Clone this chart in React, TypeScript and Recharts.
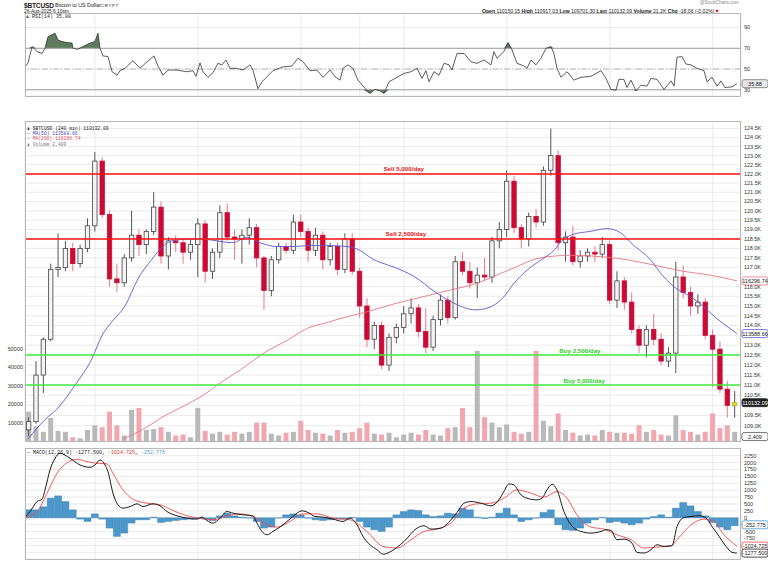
import React from "react";
import {
  ComposedChart,
  Bar,
  Line,
  Area,
  XAxis,
  YAxis,
  CartesianGrid,
  ReferenceLine,
  Cell,
} from "recharts";

// 12h candles, x = day of July (Aug 1 = 32)
const candleDays = [
  9.5, 10, 10.5, 11, 11.5, 12, 12.5, 13, 13.5, 14, 14.5, 15, 15.5, 16, 16.5, 17, 17.5, 18, 18.5, 19,
  19.5, 20, 20.5, 21, 21.5, 22, 22.5, 23, 23.5, 24, 24.5, 25, 25.5, 26, 26.5, 27, 27.5, 28, 28.5, 29,
  29.5, 30, 30.5, 31, 31.5, 32, 32.5, 33, 33.5, 34, 34.5, 35, 35.5, 36, 36.5, 37, 37.5, 38, 38.5, 39,
  39.5, 40, 40.5, 41, 41.5, 42, 42.5, 43, 43.5, 44, 44.5, 45, 45.5, 46, 46.5, 47, 47.5, 48, 48.5, 49,
  49.5, 50, 50.5, 51, 51.5, 52, 52.5, 53, 53.5, 54, 54.5, 55, 55.5, 56, 56.5, 57, 57.5,
];
const opens = [
  108.8, 109.2, 111.5, 113.3, 116.9, 117.0, 118.0, 117.2, 118.0, 119.2, 122.7, 119.8, 116.4, 116.2, 117.5, 118.7, 118.2, 118.9, 120.2, 117.6,
  118.4, 118.3, 117.8, 118.2, 119.3, 116.8, 117.8, 119.9, 118.6, 118.5, 118.7, 119.1, 117.5, 115.8, 117.4, 118.1, 117.9, 119.4, 118.9, 117.9,
  118.7, 117.4, 118.1, 116.9, 118.5, 116.8, 115.0, 113.3, 114.0, 112.0, 113.4, 113.9, 114.6, 114.9, 113.7, 112.9, 114.3, 115.3, 114.4, 117.3,
  116.8, 116.2, 116.6, 116.5, 118.4, 119.0, 121.6, 119.1, 118.5, 119.7, 119.4, 122.2, 123.0, 118.3, 118.6, 117.3, 117.6, 117.8, 117.7, 118.2,
  115.3, 116.3, 115.2, 113.8, 113.0, 113.8, 113.3, 112.2, 112.6, 116.5, 115.7, 115.0, 115.2, 113.5, 112.8, 110.8, 110.0,
];
const highs = [
  109.4, 112.2, 113.4, 117.2, 118.8, 118.4, 118.3, 118.2, 119.6, 123.2, 122.9, 120.0, 117.2, 117.7, 120.0, 119.0, 119.0, 121.0, 120.5, 118.6,
  118.7, 118.5, 118.5, 119.6, 119.5, 118.0, 120.3, 120.4, 119.0, 119.0, 119.6, 119.3, 117.6, 117.6, 118.3, 118.3, 119.8, 119.8, 119.1, 119.1,
  118.9, 118.3, 118.3, 118.8, 118.8, 117.0, 115.4, 114.2, 114.2, 113.6, 114.1, 115.0, 115.4, 115.1, 114.9, 114.5, 115.6, 115.5, 117.6, 117.8,
  117.3, 117.0, 117.5, 118.6, 119.4, 122.2, 121.9, 119.3, 119.9, 120.1, 122.4, 124.5, 123.3, 118.9, 119.2, 117.9, 118.0, 118.1, 118.6, 118.4,
  116.8, 116.5, 115.7, 114.0, 114.0, 114.6, 113.6, 112.9, 117.3, 117.1, 116.0, 115.6, 115.4, 113.8, 113.2, 111.2, 110.7,
];
const lows = [
  108.5, 109.1, 110.6, 113.2, 116.5, 116.8, 116.8, 117.0, 117.8, 118.9, 119.6, 116.0, 115.7, 116.0, 117.3, 117.6, 117.7, 118.7, 117.2, 116.9,
  117.8, 117.2, 117.4, 116.5, 116.2, 116.4, 117.5, 118.4, 117.4, 117.2, 118.2, 117.0, 114.8, 115.5, 117.2, 117.7, 117.7, 118.6, 117.3, 117.6,
  116.9, 117.1, 116.6, 116.7, 116.6, 114.4, 112.9, 112.8, 111.8, 111.7, 113.1, 113.6, 114.1, 113.4, 112.6, 112.7, 114.0, 114.1, 114.3, 116.6,
  115.9, 115.4, 116.3, 116.2, 118.0, 118.6, 118.8, 118.0, 118.1, 119.1, 119.2, 121.9, 117.9, 117.3, 117.1, 117.0, 117.3, 117.3, 117.5, 115.1,
  114.9, 114.8, 113.6, 112.6, 112.4, 113.0, 112.0, 111.9, 111.6, 115.4, 114.5, 114.6, 113.3, 110.9, 110.6, 109.4, 109.4,
];
const closes = [
  109.2, 111.5, 113.3, 116.9, 117.0, 118.0, 117.2, 118.0, 119.2, 122.7, 119.8, 116.4, 116.2, 117.5, 118.7, 118.2, 118.9, 120.2, 117.6, 118.4,
  118.3, 117.8, 118.2, 119.3, 116.8, 117.8, 119.9, 118.6, 118.5, 118.7, 119.1, 117.5, 115.8, 117.4, 118.1, 117.9, 119.4, 118.9, 117.9, 118.7,
  117.4, 118.1, 116.9, 118.5, 116.8, 115.0, 113.3, 114.0, 112.0, 113.4, 113.9, 114.6, 114.9, 113.7, 112.9, 114.3, 115.3, 114.4, 117.3, 116.8,
  116.2, 116.6, 116.5, 118.4, 119.0, 121.6, 119.1, 118.5, 119.7, 119.4, 122.2, 123.0, 118.3, 118.6, 117.3, 117.6, 117.8, 117.7, 118.2, 115.3,
  116.3, 115.2, 113.8, 113.0, 113.8, 113.3, 112.2, 112.6, 116.5, 115.7, 115.0, 115.2, 113.5, 112.8, 110.8, 110.0, 110.13,
];
// volume in thousands
const volumes = [
  16, 8, 5, 12.5, 5.5, 5, 2, 1.5, 6, 8.5, 7.5, 16, 8.5, 3, 17, 18, 6, 6.5, 7.5, 5,
  3, 3.5, 2, 18, 5.5, 4, 5, 3.5, 5, 4, 5, 10, 10, 4, 3, 4.5, 5, 11, 6, 4.5,
  4, 3, 6, 4.5, 5, 7, 10, 4, 3.5, 4.5, 2, 3.5, 4.5, 3.5, 6, 3.5, 3, 7, 7.5, 18,
  7.5, 49, 13, 10, 7.5, 9, 5, 4, 5, 49, 11, 8, 15, 6, 4.5, 3, 3.5, 3, 6, 5,
  4.5, 4.5, 4, 8.5, 5, 6, 3.5, 3, 14, 6, 5, 3.5, 5, 15, 7, 8.5, 5,
];
const macdHist = [
  290, 290, 400, 710, 794, 590, 290, -48, -133, 144, -48, -373, -674, -554, -192, -72, -72, 25, -169, -133,
  -97, -72, -48, -24, -48, -97, 72, 169, 72, 25, -12, -133, -373, -337, -10, 108, 144, 108, -12, -72,
  -97, -72, -48, -48, 10, -133, -337, -433, -494, -337, 108, 227, 289, 264, 108, 48, 72, 169, 144, 350,
  289, 25, -24, 25, 169, 350, 108, -133, -72, -12, 193, 289, -253, -433, -457, -373, -192, -72, 15, -169,
  -133, -192, -253, -192, -48, 48, 108, 25, 350, 553, 433, 227, 72, -169, -337, -433, -289,
];

const ma50Days = [
  9.45, 10.6, 11.48, 12.64, 13.8, 14.48, 15.16, 16.04, 16.92, 17.87, 18.55, 19.23, 20.59, 21.48, 23.38, 24.33, 25.22,
  26.37, 27.46, 28.62, 29.98, 31.13, 32.01, 32.9, 33.37, 34.39, 35.75, 37.11, 38.47, 39.83, 40.72, 41.67, 42.56,
  43.44, 44.39, 45.27, 45.61, 46.49, 47.65, 48.81, 49.69, 50.57, 51.73, 52.61, 53.56, 54.45, 55.33, 56.28, 57.17, 57.64,
];
const ma50Values = [
  108.37, 109.3, 109.87, 111.0, 112.34, 113.5, 114.2, 115.0, 116.4, 117.43, 118.05, 118.4, 118.5, 118.48, 118.3, 118.6, 118.3,
  118.1, 118.1, 118.15, 118.15, 118.1, 117.9, 117.43, 117.27, 117.0, 116.5, 115.73, 115.12, 114.8, 114.9, 115.37, 116.24,
  116.9, 117.43, 117.95, 118.3, 118.74, 118.9, 119.05, 118.85, 118.2, 117.43, 116.56, 115.88, 115.5, 115.0, 114.35, 113.85, 113.59,
];
const ma200Days = [
  15.84, 17.2, 18.76, 20.12, 21.48, 22.5, 23.86, 25.69, 27.05, 28.41, 29.77, 31.13, 32.49, 34.39, 35.75,
  37.11, 38.47, 39.83, 41.19, 42.55, 43.91, 45.27, 46.29, 47.65, 49.49, 51.73, 53.97, 55.81, 57.64,
];
const ma200Values = [
  108.33, 108.8, 109.5, 110.0, 110.56, 111.1, 111.75, 112.7, 113.24, 113.85, 114.15, 114.45, 114.7, 115.12, 115.37,
  115.63, 115.88, 116.14, 116.56, 117.0, 117.43, 117.6, 117.64, 117.6, 117.48, 117.17, 116.8, 116.6, 116.3,
];

const rsiDays = [
  9.25, 9.45, 9.72, 10.06, 10.4, 10.6, 10.8, 11.28, 11.48, 11.76, 12.1, 12.44, 12.5, 12.84, 13.18, 13.66, 14.0, 14.2, 14.34, 14.54,
  14.88, 15.16, 15.5, 15.7, 16.04, 16.58, 17.06, 17.54, 18.01, 18.28, 18.62, 18.96, 19.57, 20.25, 20.66, 20.87, 21.14, 21.34, 21.68, 22.02,
  22.36, 22.63, 22.9, 23.18, 23.65, 24.06, 24.54, 24.74, 25.08, 25.35, 25.69, 26.1, 26.78, 27.39, 27.8, 28.14, 28.62, 29.09, 29.5, 29.98,
  30.32, 30.66, 30.86, 31.2, 31.54, 31.88, 32.22, 32.69, 33.03, 33.37, 33.65, 33.99, 34.53, 35.01, 35.48, 35.89, 36.23, 36.5, 36.71, 37.05,
  37.39, 37.73, 38.07, 38.27, 38.61, 39.09, 39.56, 39.97, 40.45, 40.92, 41.12, 41.33, 41.8, 42.08, 42.35, 42.69, 43.16, 43.37, 43.64, 43.98,
  44.32, 44.66, 45.0, 45.2, 45.41, 45.68, 46.09, 46.56, 47.04, 47.72, 48.4, 48.74, 49.08, 49.42, 49.62, 49.96, 50.17, 50.44, 50.78, 51.12,
  51.53, 51.8, 52.21, 52.69, 53.16, 53.37, 53.57, 53.91, 54.18, 54.52, 54.93, 55.4, 55.61, 55.95, 56.29, 56.56, 56.83, 57.31, 57.64,
];
const rsiValues = [
  52, 56, 71.6, 66.8, 65, 70, 81, 84.6, 78, 76.5, 75.5, 75, 70, 69, 71.6, 75, 76.5, 84.6, 70, 62.6,
  62, 47.4, 44, 48.4, 50.7, 58, 50.7, 57, 62.6, 53, 44, 49, 49, 47.4, 48.4, 43, 56, 47.4, 42, 46.4,
  55.5, 54, 58.7, 50.7, 50.7, 49, 54, 49, 31, 37.7, 42.5, 48.4, 52, 53, 60.4, 57, 48.4, 49, 42, 49,
  42.5, 39.3, 50.7, 54, 50.7, 39.3, 33.5, 26.4, 30.3, 29, 26.4, 37.7, 42, 45.8, 47.4, 50.7, 41, 48.4, 37.7, 47.4,
  44, 55.5, 54, 49, 65, 65, 57, 55.5, 58.7, 54, 66.8, 60.4, 66.8, 75.5, 68.4, 55.5, 53, 50.7, 58.7, 54,
  60.4, 70, 71.6, 65, 50.7, 42, 47.4, 39.3, 42, 43, 48.4, 41, 30.3, 29.6, 40, 40, 32.2, 39.3, 29, 34.5,
  33.5, 41, 40, 30.3, 38.6, 33.5, 61.4, 62, 54.8, 54, 50.7, 48.4, 37.7, 42, 33.5, 38.6, 32.2, 32.8, 35.88,
];

const macdDays = [
  9.25, 9.58, 10.06, 10.4, 10.6, 10.94, 11.28, 11.62, 12.3, 12.98, 13.66, 14.0, 14.34, 14.68, 14.88, 15.22, 15.56, 15.9, 16.38, 16.86,
  17.26, 17.94, 18.42, 18.89, 19.57, 20.25, 20.93, 21.27, 21.61, 22.02, 22.5, 22.97, 23.38, 24.06, 24.74, 25.01, 25.35, 25.69, 26.1, 26.78,
  27.46, 28.07, 28.48, 28.96, 29.5, 30.18, 30.86, 31.34, 31.81, 32.22, 32.69, 33.17, 33.6, 34.12, 35.01, 35.89, 36.37, 36.84, 37.52, 38.2,
  38.61, 39.09, 39.56, 40.24, 40.92, 41.46, 41.8, 42.14, 42.48, 42.96, 43.37, 44.05, 44.39, 44.73, 45.07, 45.41, 45.88, 46.36, 47.04, 47.72,
  48.4, 48.74, 49.08, 49.49, 49.96, 50.51, 50.85, 51.32, 51.8, 52.21, 52.69, 53.23, 53.57, 54.05, 54.52, 55.07, 55.54, 55.95, 56.43, 56.9,
  57.31, 57.64,
];
const macdValues = [
  25, 227, 588, 674, 1010, 1733, 2155, 2335, 2155, 1913, 1830, 1913, 2094, 1913, 1671, 892, 469, 350, 408, 505,
  408, 505, 433, 227, 72, -12, -48, 25, -97, -192, -12, 227, 169, 108, 72, -192, -494, -614, -494, -253,
  48, 253, 193, 48, 25, -48, -133, -12, -253, -674, -975, -1155, -1320, -1215, -855, -373, -289, -409, -373, -72,
  193, 529, 589, 529, 433, 650, 950, 1227, 1191, 830, 710, 650, 710, 1010, 1215, 1010, 227, -253, -494, -554,
  -494, -433, -457, -794, -770, -915, -1251, -1275, -1155, -975, -1035, -1011, -313, 12, 48, 72, -12, -313, -674, -1035,
  -1251, -1277.5,
];
const signalDays = [
  9.25, 10.06, 10.74, 11.42, 12.1, 12.78, 13.46, 14.14, 14.82, 15.22, 15.9, 16.58, 17.54, 18.42, 19.3, 20.25, 21.14, 22.02, 22.97, 23.86,
  24.74, 25.69, 26.37, 27.26, 28.14, 29.09, 30.18, 31.34, 32.49, 33.58, 34.53, 35.48, 36.37, 37.25, 38.2, 39.09, 39.97, 40.92, 41.8, 42.69,
  43.64, 44.52, 45.41, 46.09, 46.77, 47.72, 48.6, 49.49, 50.44, 51.32, 52.21, 53.16, 53.57, 54.52, 55.4, 56.08, 56.76, 57.64,
];
const signalValues = [
  12, 227, 892, 1614, 1997, 2119, 2033, 1975, 1950, 1614, 1010, 674, 529, 469, 264, 72, -12, -72, 72, 144,
  48, -253, -337, -133, 144, 144, -12, -72, -494, -1035, -1095, -794, -494, -409, -192, 350, 505, 529, 710, 1010,
  892, 746, 950, 710, 108, -337, -409, -614, -794, -1095, -1059, -1011, -794, -253, -48, -133, -614, -1024.7,
];

const weekTicks = [14, 21, 28, 32, 35, 42, 49, 56];
const weekLabels = ["14", "21", "28", "Aug", "4", "11", "18", "25"];
const priceTicks = [
  109, 109.5, 110, 110.5, 111, 111.5, 112, 112.5, 113, 113.5, 114, 114.5, 115, 115.5, 116, 116.5,
  117, 117.5, 118, 118.5, 119, 119.5, 120, 120.5, 121, 121.5, 122, 122.5, 123, 123.5, 124, 124.5,
];
const hiddenPriceLabels = [110, 113.5, 116.5];
const volumeTicks = [5, 10, 15, 20, 25, 30, 35, 40, 45, 50];
const rsiTicks = [30, 50, 70, 90];
const macdTicks = [-1250, -1000, -750, -500, -250, 0, 250, 500, 750, 1000, 1250, 1500, 1750, 2000, 2250];
const hiddenMacdLabels = [-1250, -1000, -250];

const X_DOMAIN: [number, number] = [9.24, 57.92];
const FONT = "'Liberation Sans', Arial, sans-serif";
const MONO = "'Liberation Mono', 'DejaVu Sans Mono', monospace";
const GRID = "#e4e4e4";

const candles = candleDays.map((t, i) => ({
  t,
  o: opens[i],
  h: highs[i],
  l: lows[i],
  c: closes[i],
  v: volumes[i],
  hist: macdHist[i],
  last: i === candleDays.length - 1,
}));
const ma50Data = ma50Days.map((t, i) => ({ t, v: ma50Values[i] }));
const ma200Data = ma200Days.map((t, i) => ({ t, v: ma200Values[i] }));
const rsiData = rsiDays.map((t, i) => ({ t, v: rsiValues[i] }));
const macdData = macdDays.map((t, i) => ({ t, v: macdValues[i] }));
const signalData = signalDays.map((t, i) => ({ t, v: signalValues[i] }));

function Candle(props: any) {
  const { x, y, width, height, payload } = props;
  if (!payload || y == null || height == null) return null;
  const { o, h, l, c, last } = payload;
  const span = Math.log(h) - Math.log(l);
  const py = (v: number) => (span > 0 ? y + (height * (Math.log(h) - Math.log(v))) / span : y);
  const up = c >= o;
  const cx = x + width / 2;
  const bw = 4.4;
  const top = py(Math.max(o, c));
  const bodyH = Math.max(1, py(Math.min(o, c)) - top);
  const wick = up ? "#555" : "#e8798b";
  const body = last ? "#ece23a" : up ? "#f3f3f3" : "#cc0a35";
  const edge = last ? "#b8a800" : up ? "#444" : "#cc0a35";
  return (
    <g>
      <line x1={cx} x2={cx} y1={y} y2={y + height} stroke={wick} strokeWidth={1} />
      <rect x={cx - bw / 2} y={top} width={bw} height={bodyH} fill={body} stroke={edge} strokeWidth={0.8} />
    </g>
  );
}

function DayTick(props: any) {
  const { x, y, payload } = props;
  const label = weekLabels[weekTicks.indexOf(payload.value)];
  return (
    <text x={x} y={y + 5} textAnchor="middle" fontSize={6} fontFamily={FONT} fill="#333" fontWeight={label === "Aug" ? "bold" : "normal"}>
      {label}
    </text>
  );
}

function valueBox(text: string, stroke: string, fill: string, color: string) {
  return (props: any) => {
    const vb = props.viewBox || {};
    const x = (vb.x ?? 0) + (vb.width ?? 0) + 1;
    const y = vb.y ?? 0;
    return (
      <g>
        <rect x={x} y={y - 4} width={26} height={8} rx={2} fill={fill} stroke={stroke} strokeWidth={0.8} />
        <text x={x + 13} y={y + 2} textAnchor="middle" fontSize={5.5} fontFamily={FONT} fill={color}>
          {text}
        </text>
      </g>
    );
  };
}

function lineText(text: string, color: string, frac: number) {
  return (props: any) => {
    const vb = props.viewBox || {};
    return (
      <text x={(vb.x ?? 0) + (vb.width ?? 0) * frac} y={(vb.y ?? 0) - 2.5} textAnchor="middle" fontSize={6.2} fontWeight="bold" fontFamily={FONT} fill={color}>
        {text}
      </text>
    );
  };
}

const axisTick = { fontSize: 5.5, fill: "#333", fontFamily: FONT };

const abs = (left: number, top: number, extra: React.CSSProperties = {}): React.CSSProperties => ({
  position: "absolute",
  left,
  top,
  whiteSpace: "nowrap",
  lineHeight: 1,
  ...extra,
});

function Panel({ top, height }: { top: number; height: number }) {
  return <div style={{ position: "absolute", left: 25, top, width: 716, height, boxSizing: "border-box", border: "1px solid #b8b8b8", pointerEvents: "none" }} />;
}

export default function App() {
  return (
    <div style={{ position: "absolute", left: 0, top: 0, width: 768, height: 568, background: "#fff", overflow: "hidden", fontFamily: FONT, color: "#222" }}>
      {/* header */}
      <div style={abs(24, 2.5, { fontSize: 6.6, fontWeight: "bold", letterSpacing: -0.2 })}>$BTCUSD</div>
      <div style={abs(55, 3, { fontSize: 5.3 })}>Bitcoin to US Dollar</div>
      <div style={abs(101, 3.5, { fontSize: 4.4, letterSpacing: 0.6 })}>CRYPT</div>
      <div style={abs(24, 9.5, { fontSize: 4.8 })}>26-Aug-2025 6:10pm</div>
      <div style={abs(700, 1, { fontSize: 4.5, color: "#888" })}>@StockCharts.com</div>
      <div style={abs(482, 8.5, { fontSize: 5.1 })}>
        <b>Open</b> 110150.15 <b>High</b> 110917.03 <b>Low</b> 109701.30 <b>Last</b> 110132.09 <b>Volume</b> 21.2K <b>Chg</b> -18.06 (-0.02%)
        <span style={{ color: "#d00" }}>▼</span>
      </div>
      <div style={abs(26, 14.5, { fontSize: 5, fontFamily: MONO })}>
        <span style={{ color: "#4d6b4d" }}>▲</span> RSI(14) 35.88
      </div>

      {/* RSI */}
      <div style={{ position: "absolute", left: 0, top: 13 }}>
        <ComposedChart width={768} height={83} data={rsiData} margin={{ top: 0, right: 0, bottom: 0, left: 25 }}>
          <CartesianGrid stroke={GRID} strokeWidth={0.8} />
          <XAxis type="number" dataKey="t" domain={X_DOMAIN} ticks={weekTicks} hide allowDataOverflow />
          <YAxis orientation="right" type="number" width={27} domain={[24, 104]} ticks={rsiTicks} tick={axisTick} tickLine={false} axisLine={false} tickSize={0} tickMargin={3} allowDataOverflow />
          <Area type="linear" dataKey={(d: any) => [70, Math.max(70, d.v)]} stroke="none" fill="#5d7b5d" fillOpacity={1} isAnimationActive={false} activeDot={false} />
          <Area type="linear" dataKey={(d: any) => [Math.min(30, d.v), 30]} stroke="none" fill="#5d7b5d" fillOpacity={1} isAnimationActive={false} activeDot={false} />
          <ReferenceLine y={70} stroke="#9a9a9a" strokeWidth={1} />
          <ReferenceLine y={30} stroke="#9a9a9a" strokeWidth={1} />
          <ReferenceLine y={50} stroke="#aaa" strokeWidth={0.8} strokeDasharray="6 2 1 2" />
          <Line type="linear" dataKey="v" stroke="#333" strokeWidth={0.8} dot={false} activeDot={false} isAnimationActive={false} />
          <ReferenceLine y={35.88} stroke="none" label={valueBox("35.88", "#777", "#e8e8e8", "#222")} />
        </ComposedChart>
      </div>
      <Panel top={13} height={84} />

      {/* price + volume */}
      <div style={{ position: "absolute", left: 0, top: 121 }}>
        <ComposedChart width={768} height={332} data={candles} margin={{ top: 0, right: 0, bottom: 0, left: 0 }}>
          <CartesianGrid xAxisId="main" yAxisId="price" stroke={GRID} strokeWidth={0.8} />
          <XAxis xAxisId="main" type="number" dataKey="t" domain={X_DOMAIN} ticks={weekTicks} interval={0} tick={<DayTick />} height={12} tickSize={0} tickMargin={1} tickLine={false} axisLine={false} allowDataOverflow />
          <XAxis xAxisId="vol" type="number" dataKey="t" domain={X_DOMAIN} hide allowDataOverflow />
          <XAxis xAxisId="cdl" type="number" dataKey="t" domain={X_DOMAIN} hide allowDataOverflow />
          <YAxis yAxisId="vol" orientation="left" type="number" width={25} domain={[0, 174.1]} ticks={volumeTicks} tickFormatter={(v: number) => String(v * 1000)} tick={axisTick} tickLine={false} axisLine={false} tickSize={0} tickMargin={2} allowDataOverflow />
          <YAxis yAxisId="price" orientation="right" type="number" scale="log" width={27} domain={[108.26, 124.92]} ticks={priceTicks} interval={0} tickFormatter={(v: number) => (hiddenPriceLabels.includes(v) ? "" : v.toFixed(1) + "K")} tick={axisTick} tickLine={false} axisLine={false} tickSize={0} tickMargin={3} allowDataOverflow />
          <Bar xAxisId="vol" yAxisId="vol" dataKey="v" barSize={5} isAnimationActive={false}>
            {candles.map((d, i) => (
              <Cell key={i} fill={d.c >= d.o ? "#b9b9b9" : "#f2a6ae"} />
            ))}
          </Bar>
          <Bar xAxisId="cdl" yAxisId="price" dataKey={(d: any) => [d.l, d.h]} barSize={5} shape={Candle} isAnimationActive={false} />
          <Line xAxisId="main" yAxisId="price" data={ma200Data} dataKey="v" type="monotone" stroke="#e77785" strokeWidth={0.9} dot={false} activeDot={false} isAnimationActive={false} />
          <Line xAxisId="main" yAxisId="price" data={ma50Data} dataKey="v" type="monotone" stroke="#5a5ad0" strokeWidth={0.9} dot={false} activeDot={false} isAnimationActive={false} />
          <ReferenceLine xAxisId="main" yAxisId="price" y={122} stroke="#ff1010" strokeWidth={1.5} label={lineText("Sell 5,000/day", "#e01010", 0.529)} />
          <ReferenceLine xAxisId="main" yAxisId="price" y={118.5} stroke="#ff1010" strokeWidth={1.5} label={lineText("Sell 2,500/day", "#e01010", 0.532)} />
          <ReferenceLine xAxisId="main" yAxisId="price" y={112.5} stroke="#40ee40" strokeWidth={1.5} label={lineText("Buy 2,500/day", "#22cc22", 0.775)} />
          <ReferenceLine xAxisId="main" yAxisId="price" y={111} stroke="#40ee40" strokeWidth={1.5} label={lineText("Buy 5,000/day", "#22cc22", 0.781)} />
          <ReferenceLine xAxisId="main" yAxisId="price" y={116.29674} stroke="none" label={valueBox("116296.74", "#e77785", "#fff", "#222")} />
          <ReferenceLine xAxisId="main" yAxisId="price" y={113.58866} stroke="none" label={valueBox("113588.66", "#5a5ad0", "#fff", "#222")} />
          <ReferenceLine xAxisId="main" yAxisId="price" y={110.13209} stroke="none" label={valueBox("110132.09", "#222", "#222", "#fff")} />
          <ReferenceLine xAxisId="vol" yAxisId="vol" y={2.409} stroke="none" label={valueBox("2,409", "#555", "#fff", "#222")} />
        </ComposedChart>
      </div>
      <Panel top={121} height={321} />
      <div style={abs(27, 125.5, { fontSize: 4.7, fontFamily: MONO, lineHeight: "5.4px" })}>
        <div>▮ $BTCUSD (240 min) 110132.09</div>
        <div style={{ color: "#4646c0" }}>— MA(50) 113588.66</div>
        <div style={{ color: "#e0506a" }}>— MA(200) 116296.74</div>
        <div style={{ color: "#777" }}>▮ Volume 2,409</div>
      </div>

      {/* MACD */}
      <div style={{ position: "absolute", left: 0, top: 448 }}>
        <ComposedChart width={768} height={120} data={candles} margin={{ top: 0, right: 0, bottom: 0, left: 25 }}>
          <CartesianGrid xAxisId="main" stroke={GRID} strokeWidth={0.8} />
          <XAxis xAxisId="main" type="number" dataKey="t" domain={X_DOMAIN} ticks={weekTicks} interval={0} tick={<DayTick />} height={9} tickSize={0} tickMargin={0} tickLine={false} axisLine={false} allowDataOverflow />
          <XAxis xAxisId="hist" type="number" dataKey="t" domain={X_DOMAIN} hide allowDataOverflow />
          <YAxis orientation="right" type="number" width={27} domain={[-1491, 2527]} ticks={macdTicks} interval={0} tickFormatter={(v: number) => (hiddenMacdLabels.includes(v) ? "" : String(v))} tick={axisTick} tickLine={false} axisLine={false} tickSize={0} tickMargin={3} allowDataOverflow />
          <Bar xAxisId="hist" dataKey="hist" barSize={7} fill="#4d98cb" stroke="#2f78ad" strokeWidth={0.4} isAnimationActive={false} />
          <Line xAxisId="main" data={signalData} dataKey="v" type="monotone" stroke="#f04848" strokeWidth={0.9} dot={false} activeDot={false} isAnimationActive={false} />
          <Line xAxisId="main" data={macdData} dataKey="v" type="monotone" stroke="#1a1a1a" strokeWidth={1} dot={false} activeDot={false} isAnimationActive={false} />
          <ReferenceLine xAxisId="main" y={-252.775} stroke="none" label={valueBox("-252.775", "#4d98cb", "#fff", "#222")} />
          <ReferenceLine xAxisId="main" y={-1024.725} stroke="none" label={valueBox("-1024.725", "#f04848", "#fff", "#222")} />
          <ReferenceLine xAxisId="main" y={-1277.5} stroke="none" label={valueBox("-1277.500", "#222", "#fff", "#222")} />
        </ComposedChart>
      </div>
      <Panel top={448} height={112} />
      <div style={abs(27, 450.5, { fontSize: 5, fontFamily: MONO })}>
        — MACD(12,26,9) -1277.500, <span style={{ color: "#e03030" }}>-1024.725</span>, <span style={{ color: "#4d98cb" }}>-252.775</span>
      </div>
    </div>
  );
}
